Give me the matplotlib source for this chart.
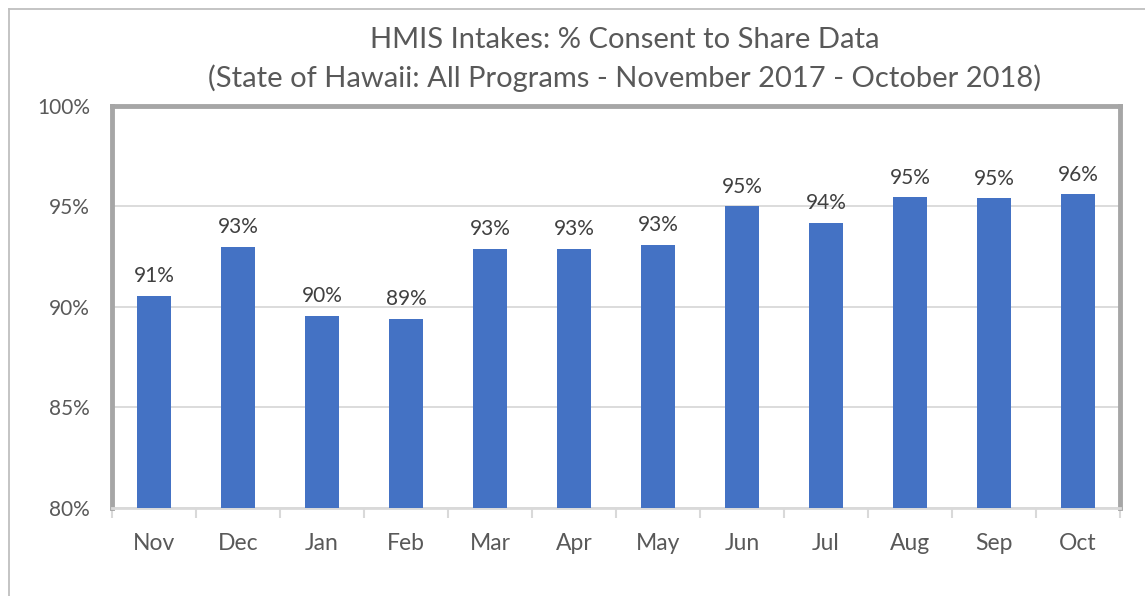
import matplotlib
matplotlib.use("Agg")
import matplotlib.pyplot as plt
from matplotlib.lines import Line2D
import numpy as np

months = ["Nov", "Dec", "Jan", "Feb", "Mar", "Apr", "May", "Jun", "Jul", "Aug", "Sep", "Oct"]
consent_pct = [90.55, 93.0, 89.55, 89.4, 92.9, 92.9, 93.1, 95.0, 94.2, 95.45, 95.4, 95.6]
y_ticks = [80, 85, 90, 95, 100]

title_line1 = "HMIS Intakes: % Consent to Share Data"
title_line2 = "(State of Hawaii: All Programs - November 2017 - October 2018)"

plt.rcParams['font.family'] = ['Lato', 'DejaVu Sans']

W, H = 1145, 596
fig = plt.figure(figsize=(W / 100, H / 100), dpi=100)
fig.patch.set_facecolor("white")

# outer chart frame
fig.add_artist(Line2D([9 / W, 9 / W], [0, 1 - 9 / H], transform=fig.transFigure,
                      color="#BFBFBF", lw=1.3))
fig.add_artist(Line2D([9 / W, 1], [1 - 9 / H, 1 - 9 / H], transform=fig.transFigure,
                      color="#BFBFBF", lw=1.3))

left, right, top, bottom = 112, 1120, 106, 508
ax = fig.add_axes([left / W, 1 - bottom / H, (right - left) / W, (bottom - top) / H])

x = np.arange(len(months))
bar_color = "#4472C4"
ax.bar(x, consent_pct, width=0.4, bottom=0, color=bar_color, zorder=3)

ax.set_xlim(-0.5, len(months) - 0.5)
ax.set_ylim(80, 100)
ax.set_yticks(y_ticks)
ax.set_yticklabels([f"{v}%" for v in y_ticks])
ax.yaxis.grid(True, color="#D9D9D9", lw=1.3, zorder=0)
ax.tick_params(axis="y", length=0, pad=16, labelsize=15, labelcolor="#595959")

ax.set_xticks(x)
ax.set_xticklabels(months)
ax.tick_params(axis="x", which="major", length=0, pad=18, labelsize=16.5, labelcolor="#595959")
ax.set_xticks(np.arange(-0.5, len(months), 1.0), minor=True)
ax.tick_params(axis="x", which="minor", length=7, width=1.5, color="#D9D9D9", direction="out")

for side in ["left", "top", "right"]:
    ax.spines[side].set_color("#A6A6A6")
    ax.spines[side].set_linewidth(3.5)
ax.spines["bottom"].set_color("#D9D9D9")
ax.spines["bottom"].set_linewidth(2)

for xi, v in zip(x, consent_pct):
    ax.annotate(f"{round(v):.0f}%", (xi, v), xytext=(0, 7), textcoords="offset points",
                ha="center", va="bottom", fontsize=15, color="#404040")

fig.text(625 / W, 1 - 40 / H, title_line1, ha="center", va="center", fontsize=21, color="#595959")
fig.text(625 / W, 1 - 78 / H, title_line2, ha="center", va="center", fontsize=21, color="#595959")

fig.savefig("out.png", dpi=100, facecolor="white")
